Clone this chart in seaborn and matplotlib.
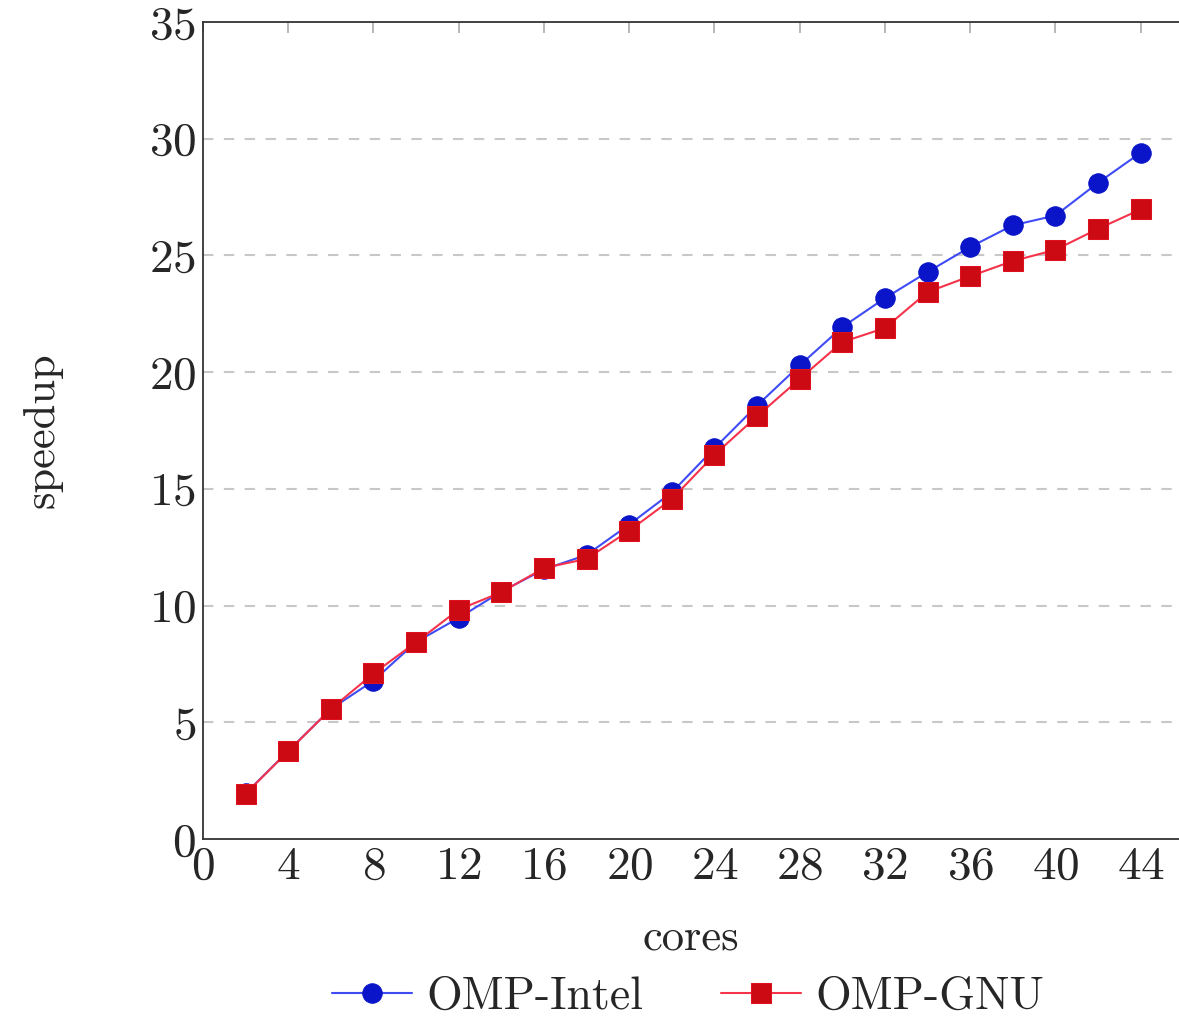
import seaborn as sns
import pandas as pd
import matplotlib
matplotlib.use("Agg")
import matplotlib.pyplot as plt

cores = [2, 4, 6, 8, 10, 12, 14, 16, 18, 20, 22, 24, 26, 28, 30, 32, 34, 36, 38, 40, 42, 44]
omp_intel = [1.95, 3.77, 5.57, 6.78, 8.44, 9.47, 10.6, 11.55, 12.17, 13.47, 14.85,
             16.74, 18.57, 20.29, 21.93, 23.17, 24.29, 25.36, 26.29, 26.71, 28.11, 29.4]
omp_gnu = [1.94, 3.76, 5.57, 7.09, 8.43, 9.83, 10.57, 11.61, 12.0, 13.21, 14.56,
           16.46, 18.11, 19.71, 21.29, 21.89, 23.43, 24.11, 24.76, 25.24, 26.14, 26.97]
yticks = [0, 5, 10, 15, 20, 25, 30, 35]
xticks = list(range(0, 45, 4))

sns.set_style("white")
plt.rcParams['font.family'] = 'serif'
plt.rcParams['font.serif'] = ['cmr10', 'DejaVu Serif']
plt.rcParams['axes.formatter.use_mathtext'] = True

df = pd.DataFrame({"cores": cores, "intel": omp_intel, "gnu": omp_gnu})

fig = plt.figure(figsize=(11.79, 10.21), dpi=100)
ax = fig.add_axes([203 / 1179, 1 - 839 / 1021, 1 - 203 / 1179, (839 - 22) / 1021])

sns.lineplot(data=df, x="cores", y="intel", ax=ax, color="#3f4cf5", lw=1.5,
             marker="o", markersize=14, markerfacecolor="#0a14c8",
             markeredgecolor="#0a14c8", label="OMP-Intel", legend=False)
sns.lineplot(data=df, x="cores", y="gnu", ax=ax, color="#f5334a", lw=1.5,
             marker="s", markersize=14, markerfacecolor="#cc0a14",
             markeredgecolor="#e01020", label="OMP-GNU", legend=False)

ax.set_xlim(0, 45.8)
ax.set_ylim(0, 35)
ax.set_xticks(xticks)
ax.set_yticks(yticks)
ax.tick_params(direction="in", length=8, width=1.2, color="#aaaaaa",
               labelsize=34, top=True, right=False, pad=5)
for s in ["left", "bottom", "top"]:
    ax.spines[s].set_color("#333333")
    ax.spines[s].set_linewidth(1.3)
ax.spines["right"].set_visible(False)

for y in yticks[1:-1]:
    ax.axhline(y, color="#c8c8c8", lw=1.5, ls=(0, (5, 5)), zorder=0)

ax.set_xlabel("cores", fontsize=32, labelpad=22)
ax.set_ylabel("speedup", fontsize=32, labelpad=62)

handles, labels = ax.get_legend_handles_labels()
fig.legend(handles, labels, loc="center", bbox_to_anchor=(688 / 1179, 1 - 997 / 1021),
           ncol=2, frameon=False, fontsize=33, handlelength=1.75, columnspacing=1.7,
           handletextpad=0.3, borderpad=0)

fig.savefig("out.png", dpi=100)
